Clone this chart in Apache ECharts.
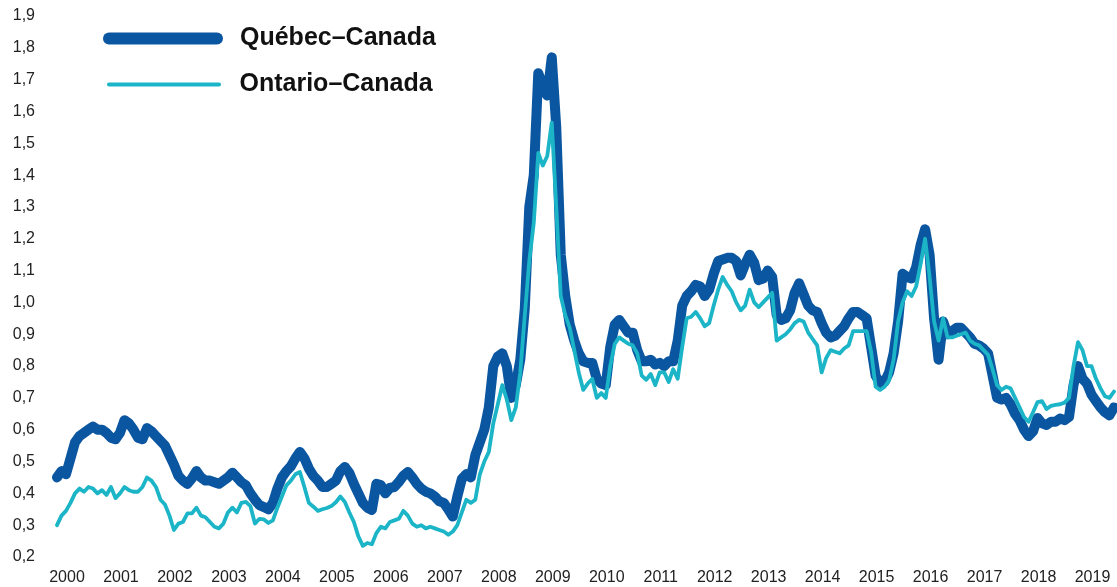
<!DOCTYPE html>
<html>
<head>
<meta charset="utf-8">
<script src="https://cdn.jsdelivr.net/npm/echarts@6/dist/echarts.min.js"></script>
<style>
html,body{margin:0;padding:0;background:#fff;}
#chart{width:1117px;height:587px;}
</style>
</head>
<body>
<div id="chart"></div>
<script>
// Years shown on the axis (monthly data, Jan 2000 - Aug 2019)
var years = ['2000','2001','2002','2003','2004','2005','2006','2007','2008','2009',
             '2010','2011','2012','2013','2014','2015','2016','2017','2018','2019'];
var lastYearMonths = 8;

// Y tick range
var yMin = 0.2, yMax = 1.9, yStep = 0.1;

var seriesNames = ['Québec–Canada', 'Ontario–Canada'];

var quebec = [
 0.45,0.47,0.46,0.51,0.56,0.58,0.59,0.60,0.61,0.60,
 0.60,0.59,0.575,0.57,0.59,0.63,0.62,0.60,0.575,0.57,
 0.605,0.595,0.58,0.565,0.55,0.52,0.49,0.455,0.44,0.43,
 0.447,0.47,0.45,0.44,0.44,0.435,0.43,0.44,0.45,0.465,
 0.45,0.435,0.425,0.40,0.38,0.363,0.357,0.35,0.37,0.415,
 0.45,0.47,0.485,0.51,0.53,0.51,0.478,0.455,0.44,0.42,
 0.42,0.43,0.44,0.47,0.483,0.464,0.43,0.40,0.37,0.355,
 0.348,0.43,0.426,0.40,0.417,0.42,0.436,0.455,0.467,0.45,
 0.43,0.415,0.405,0.40,0.39,0.375,0.37,0.35,0.327,0.39,
 0.445,0.46,0.45,0.52,0.56,0.60,0.67,0.80,0.83,0.84,
 0.80,0.70,0.74,0.82,0.98,1.30,1.40,1.72,1.68,1.65,
 1.77,1.55,1.15,1.02,0.93,0.88,0.84,0.815,0.81,0.81,
 0.76,0.745,0.74,0.86,0.93,0.945,0.925,0.905,0.905,0.85,
 0.815,0.815,0.82,0.805,0.81,0.80,0.815,0.815,0.88,0.99,
 1.02,1.035,1.055,1.05,1.02,1.04,1.09,1.13,1.135,1.14,
 1.14,1.13,1.085,1.12,1.15,1.125,1.07,1.075,1.10,1.08,
 0.96,0.945,0.95,0.975,1.03,1.06,1.025,0.99,0.975,0.97,
 0.935,0.905,0.89,0.895,0.91,0.925,0.95,0.97,0.97,0.96,
 0.95,0.86,0.77,0.745,0.75,0.78,0.84,0.94,1.09,1.08,
 1.075,1.11,1.18,1.23,1.15,0.95,0.82,0.94,0.90,0.91,
 0.92,0.92,0.905,0.89,0.87,0.865,0.855,0.84,0.77,0.70,
 0.695,0.70,0.68,0.65,0.63,0.60,0.58,0.595,0.637,0.62,
 0.615,0.625,0.625,0.635,0.63,0.64,0.74,0.80,0.76,0.745,
 0.71,0.69,0.67,0.655,0.645,0.67
];

var ontario = [
 0.30,0.33,0.345,0.37,0.40,0.415,0.405,0.42,0.415,0.40,
 0.41,0.395,0.42,0.385,0.40,0.42,0.41,0.405,0.405,0.42,
 0.45,0.44,0.42,0.38,0.365,0.33,0.285,0.305,0.31,0.337,
 0.337,0.355,0.33,0.325,0.31,0.295,0.29,0.305,0.34,0.355,
 0.34,0.37,0.373,0.36,0.305,0.32,0.318,0.307,0.315,0.355,
 0.39,0.425,0.44,0.46,0.467,0.42,0.37,0.358,0.345,0.35,
 0.354,0.36,0.372,0.39,0.373,0.34,0.31,0.265,0.235,0.244,
 0.24,0.275,0.295,0.29,0.31,0.315,0.32,0.345,0.33,0.305,
 0.295,0.30,0.29,0.295,0.29,0.285,0.28,0.27,0.28,0.30,
 0.34,0.38,0.37,0.38,0.46,0.50,0.53,0.62,0.68,0.74,
 0.695,0.63,0.67,0.78,0.96,1.13,1.25,1.47,1.43,1.46,
 1.565,1.30,1.02,0.96,0.92,0.85,0.78,0.725,0.745,0.76,
 0.70,0.715,0.70,0.80,0.87,0.89,0.88,0.87,0.865,0.84,
 0.77,0.757,0.775,0.74,0.78,0.78,0.75,0.79,0.76,0.86,
 0.95,0.955,0.97,0.95,0.925,0.935,0.99,1.04,1.08,1.055,
 1.035,1.0,0.975,0.99,1.04,1.0,0.985,1.0,1.015,1.03,
 0.88,0.89,0.90,0.915,0.935,0.945,0.94,0.905,0.885,0.865,
 0.78,0.825,0.85,0.845,0.84,0.855,0.865,0.91,0.91,0.91,
 0.91,0.845,0.735,0.725,0.735,0.755,0.82,0.94,1.0,1.035,
 1.02,1.05,1.12,1.20,1.08,0.94,0.88,0.95,0.89,0.89,
 0.895,0.90,0.905,0.88,0.87,0.865,0.85,0.835,0.79,0.74,
 0.725,0.735,0.73,0.70,0.67,0.64,0.625,0.655,0.687,0.69,
 0.665,0.675,0.678,0.68,0.685,0.70,0.80,0.875,0.85,0.80,
 0.80,0.76,0.73,0.705,0.70,0.72
];

// Build monthly categories from the year list
var months = [];
for (var i = 0; i < years.length; i++) {
  var n = (i === years.length - 1) ? lastYearMonths : 12;
  for (var m = 1; m <= n; m++) {
    months.push(years[i] + '-' + (m < 10 ? '0' + m : m));
  }
}

var FONT = '"Liberation Sans", Arial, Helvetica, sans-serif';
var chart = echarts.init(document.getElementById('chart'), null, {renderer: 'canvas'});

chart.setOption({
  animation: false,
  backgroundColor: '#ffffff',
  grid: { left: 57, right: 3, top: 16, bottom: 30, containLabel: false },
  legend: [
    {
      data: [{ name: seriesNames[0], icon: 'path://M6,0 L114,0 A6,6 0 0 1 114,12 L6,12 A6,6 0 0 1 6,0 Z' }],
      left: 103, top: 26, padding: 0,
      itemWidth: 120, itemHeight: 12,
      textStyle: { fontFamily: FONT, fontWeight: 'bold', fontSize: 25, color: '#111', padding: [0, 0, 0, 12] },
      selectedMode: false
    },
    {
      data: [{ name: seriesNames[1], icon: 'path://M2,0 L112,0 A2,2 0 0 1 112,4 L2,4 A2,2 0 0 1 2,0 Z' }],
      left: 107, top: 72, padding: 0,
      itemWidth: 115, itemHeight: 4,
      textStyle: { fontFamily: FONT, fontWeight: 'bold', fontSize: 25, color: '#111', padding: [0, 0, 0, 13] },
      selectedMode: false
    }
  ],
  xAxis: {
    type: 'category',
    data: months,
    boundaryGap: false,
    axisLine: { show: false },
    axisTick: { show: false },
    splitLine: { show: false },
    axisLabel: {
      interval: function (idx) { return idx % 12 === 0; },
      formatter: function (v) { return v.slice(0, 4); },
      fontFamily: FONT, fontSize: 16, color: '#222',
      margin: 13,
      padding: [0, 0, 0, 20]
    }
  },
  yAxis: {
    type: 'value',
    min: yMin, max: yMax, interval: yStep,
    axisLine: { show: false },
    axisTick: { show: false },
    splitLine: { show: false },
    axisLabel: {
      formatter: function (v) { return v.toFixed(1).replace('.', ','); },
      fontFamily: FONT, fontSize: 16, color: '#222',
      margin: 22
    }
  },
  series: [
    {
      name: seriesNames[0], type: 'line', data: quebec,
      showSymbol: false, symbol: 'none',
      color: '#0b56a0',
      lineStyle: { width: 10, color: '#0b56a0', cap: 'round', join: 'round' }
    },
    {
      name: seriesNames[1], type: 'line', data: ontario,
      showSymbol: false, symbol: 'none',
      color: '#1bb5c7',
      lineStyle: { width: 3.8, color: '#1bb5c7', cap: 'round', join: 'round' }
    }
  ]
});
</script>
</body>
</html>
